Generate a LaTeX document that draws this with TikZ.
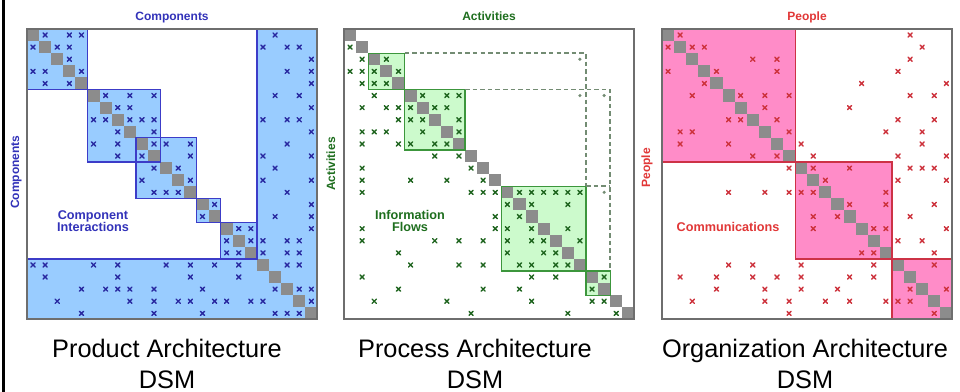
\documentclass[tikz,border=0pt]{standalone}
\usepackage{fontspec}
\setmainfont{Liberation Sans}

\definecolor{bluefill}{RGB}{153,204,255}
\definecolor{blueline}{RGB}{60,60,200}
\definecolor{bluetext}{RGB}{50,50,185}
\definecolor{bluemark}{RGB}{40,40,160}
\definecolor{greenfill}{RGB}{204,250,204}
\definecolor{greenline}{RGB}{60,150,60}
\definecolor{greentext}{RGB}{30,110,30}
\definecolor{greenmark}{RGB}{30,100,30}
\definecolor{dashgray}{RGB}{115,140,115}
\definecolor{pinkfill}{RGB}{255,140,200}
\definecolor{pinkline}{RGB}{205,50,70}
\definecolor{redtext}{RGB}{225,55,55}
\definecolor{redmark}{RGB}{205,50,60}
\definecolor{diaggray}{RGB}{140,140,140}
\definecolor{framegray}{RGB}{110,110,110}

\tikzset{
  cellgrid/.style={x=9.075pt,y=-9.075pt},
  frame/.style={draw=framegray, line width=1.5pt},
  mk/.style={line width=1.05pt, line cap=round},
  ttl/.style={font=\fontsize{9}{10}\selectfont\bfseries, anchor=base, inner sep=0pt},
  side/.style={ttl, rotate=90},
  inlabel/.style={font=\fontsize{9.5}{10}\selectfont\bfseries, anchor=base, inner sep=0pt},
  caption/.style={font=\fontsize{19}{22}\selectfont, anchor=base, inner sep=0pt},
  blockline/.style={line width=0.9pt},
  feedback/.style={draw=dashgray, line width=1.2pt, dash pattern=on 3.4pt off 2.3pt},
}

% marks of one matrix: #1 colour, #2 list of row/{columns}
\newcommand\dsmmarks[2]{%
  \foreach \r/\cl in {#2}{%
    \foreach \c in \cl {%
      \draw[mk,#1] (\c+0.5,\r+0.5) +(-0.17,-0.17) -- +(0.17,0.17)
                                   +(-0.17,0.17) -- +(0.17,-0.17);
    }%
  }%
}
% grey diagonal
\newcommand\dsmdiag{%
  \foreach \i in {0,...,23} \fill[diaggray] (\i,\i) rectangle ++(1,1);
}

\begin{document}
\begin{tikzpicture}[x=0.75pt,y=-0.75pt]
\fill[white] (0,0) rectangle (960,392);
\useasboundingbox (0,0) rectangle (960,392);
% left rule
\fill[black] (1.5,0) rectangle (5,392);

% ---------- Product architecture ----------
\begin{scope}[shift={(27,29)},cellgrid]
  \foreach \a/\b in {0/5,5/11,9/14,14/16,16/19}
    \fill[bluefill] (\a,\a) rectangle (\b,\b);
  \fill[bluefill] (0,19) -- (19,19) -- (19,0) -- (24,0) -- (24,24) -- (0,24) -- cycle;
  \dsmdiag
  \foreach \a/\b in {0/5,5/11,9/14,14/16,16/19}
    \draw[blueline,blockline] (\a,\a) rectangle (\b,\b);
  \draw[blueline,blockline] (0,19) -- (19,19) -- (19,0) -- (24,0) -- (24,24) -- (0,24) -- cycle;
  \dsmmarks{bluemark}{0/{1,3,4,20},1/{0,2,3,19,21,22},2/{3,23},3/{0,1,4,21,23},
    4/{1,3,23},5/{6,8,10,20,22},6/{7,8,23},7/{5,6,8,9,10,19,21,22},8/{7,10,23},
    9/{5,7,10,11,13,21},10/{7,9,13,19,23},11/{10,12,20},12/{9,13,19,23},
    13/{10,11,12,21},14/{15,23},15/{14,20,23},16/{17,18,23},17/{16,18,19,21,22},
    18/{16,17,19,21,22},19/{0,1,5,7,11,13,15,17,21,22},20/{1,7,13,17},
    21/{4,6,7,8,10,14,20,22,23},22/{2,8,10,12,13,15,16,18,19,23},
    23/{4,10,14,20,21,22}}
  \draw[frame] (0,0) rectangle (24,24);
\end{scope}
\node[ttl,text=bluetext] (prodtop) at (172,21) {Components};
\node[side,text=bluetext] (prodside) at (19,172) {Components};
\node[inlabel,text=bluetext] (prodin1) at (93,219.5) {Component};
\node[inlabel,text=bluetext] (prodin2) at (93,231.5) {Interactions};
\node[caption] (prodcap1) at (167,357) {Product Architecture};
\node[caption] (prodcap2) at (167,388) {DSM};

% ---------- Process architecture ----------
\begin{scope}[shift={(344,29)},cellgrid]
  \foreach \a/\b in {2/5,5/10,13/20,20/22}
    \fill[greenfill] (\a,\a) rectangle (\b,\b);
  \dsmdiag
  \foreach \a/\b in {2/5,5/10,13/20,20/22}
    \draw[greenline,blockline] (\a,\a) rectangle (\b,\b);
  \coordinate (fbA) at (5,2);
  \coordinate (fbB) at (10,5);
  \coordinate (fbC) at (20,13);
  \coordinate (fbD) at (22,20);
  \draw[feedback] (fbA) -- (20,2) -- (fbC);
  \draw[feedback] (fbB) -- (22,5) -- (fbD);
  \draw[feedback] (fbC) -- (22,13);
  \foreach \r/\c in {2/19,5/19,5/21,13/21}
    \fill[dashgray] (\c+0.5,\r+0.5) circle (1.3pt);
  \dsmmarks{greenmark}{1/{0},2/{1,3},3/{0,1,2,4},4/{1,2,3},5/{2,6,8,9},
    6/{1,3,4,5,7,8},7/{4,5,6,9},8/{1,2,3,6,9},9/{1,4,5,7,8},10/{7,9},11/{1,10},
    12/{1,5,8,11},13/{1,10,11,12,14,15,16,17,18,19},14/{13,15,18},15/{12,14},
    16/{1,12,13,15,18},17/{1,7,9,11,13,15,16,19},18/{4,13,16,17},
    19/{5,9,11,14,15,17,18},20/{1,15,17,21},21/{4,11,14,20},22/{2,8,15,20,21},
    23/{10,18,22}}
  \draw[frame] (0,0) rectangle (24,24);
\end{scope}
\node[ttl,text=greentext] (proctop) at (489,21) {Activities};
\node[side,text=greentext] (procside) at (335,164) {Activities};
\node[inlabel,text=greentext] (procin1) at (410,219.5) {Information};
\node[inlabel,text=greentext] (procin2) at (410,231.5) {Flows};
\node[caption] (proccap1) at (475,357) {Process Architecture};
\node[caption] (proccap2) at (475,388) {DSM};

% ---------- Organization architecture ----------
\begin{scope}[shift={(662,29)},cellgrid]
  \foreach \a/\b in {0/11,11/19,19/24}
    \fill[pinkfill] (\a,\a) rectangle (\b,\b);
  \dsmdiag
  \foreach \a/\b in {0/11,11/19,19/24}
    \draw[pinkline,blockline] (\a,\a) rectangle (\b,\b);
  \dsmmarks{redmark}{0/{1,20},1/{0,2,3,21},2/{7,9,20},3/{0,4,9,19},4/{3,16,23},
    5/{2,6,8,10,20,22},6/{8,15},7/{5,6,9,19,22},8/{1,2,10,18,21},9/{1,5,11,21},
    10/{7,9,12,19,23},11/{10,12,15,20,21,22},12/{13,19,23},13/{5,8,10,11,12,18},
    14/{15,18,22},15/{12,14,20},16/{12,17,18,23},17/{19,21},18/{16,17,22},
    19/{5,7,11,17,22},20/{1,4,7,9,11,15,17},21/{4,8,11,14,20,23},
    22/{2,8,10,13,15,18,19,20},23/{10,22}}
  \draw[frame] (0,0) rectangle (24,24);
\end{scope}
\node[ttl,text=redtext] (orgtop) at (807,21) {People};
\node[side,text=redtext] (orgside) at (650,168) {People};
\node[inlabel,text=redtext] (orgin) at (728,231.5) {Communications};
\node[caption] (orgcap1) at (805,357) {Organization Architecture};
\node[caption] (orgcap2) at (805,388) {DSM};
\end{tikzpicture}
\end{document}
